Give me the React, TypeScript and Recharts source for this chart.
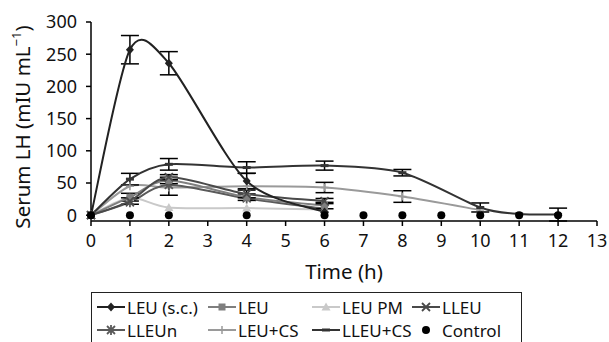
import React from 'react';
import { LineChart, Line, XAxis, YAxis, ErrorBar } from 'recharts';

const TIME = [0, 1, 2, 4, 6, 7, 8, 9, 10, 11, 12];

const LEU_SC = [0, 257, 236, 53, 5, null, null, null, null, null, null];
const LEU_SC_ERR = [0, 22, 18, 12, 0, 0, 0, 0, 0, 0, 0];
const LEU = [0, 28, 54, 28, 15, null, null, null, null, null, null];
const LEU_ERR = [0, 6, 5, 5, 5, 0, 0, 0, 0, 0, 0];
const LEU_PM = [0, 27, 12, 11, 9, null, null, null, null, null, null];
const LLEU = [0, 22, 59, 33, 22, null, null, null, null, null, null];
const LLEU_ERR = [0, 5, 4, 6, 4, 0, 0, 0, 0, 0, 0];
const LLEUN = [0, 20, 47, 26, 10, null, null, null, null, null, null];
const LEU_CS = [0, 45, 43, 45, 43, null, 29, null, 8, null, null];
const LEU_CS_ERR = [0, 0, 12, 0, 8, 0, 9, 0, 0, 0, 0];
const LLEU_CS = [0, 56, 79, 74, 77, null, 66, null, 12, 2, 1];
const LLEU_CS_ERR = [0, 9, 9, 9, 7, 0, 5, 0, 7, 0, 10];
const CONTROL = [0, 0, 0, 0, 0, 0, 0, 0, 0, 0, 0];

const X_TICKS = [0, 1, 2, 3, 4, 5, 6, 7, 8, 9, 10, 11, 12, 13];
const Y_TICKS = [0, 50, 100, 150, 200, 250, 300];

const data = TIME.map((t, i) => ({
  t,
  sc: LEU_SC[i],
  scErr: LEU_SC_ERR[i],
  leu: LEU[i],
  leuErr: LEU_ERR[i],
  pm: LEU_PM[i],
  lleu: LLEU[i],
  lleuErr: LLEU_ERR[i],
  lleun: LLEUN[i],
  cs: LEU_CS[i],
  csErr: LEU_CS_ERR[i],
  lcs: LLEU_CS[i],
  lcsErr: LLEU_CS_ERR[i],
  ctrl: CONTROL[i],
}));

type Shape = 'diamond' | 'square' | 'triangle' | 'x' | 'star' | 'plus' | 'dash' | 'circle';

const FONT = '"Noto Sans", "Open Sans", sans-serif';

// excel-like smoothing: cubic bezier through every point, control points from neighbours
const K = 0.14;
const smoothCurve = (context: any) => {
  let pts: number[][] = [];
  return {
    areaStart() {},
    areaEnd() {},
    lineStart() {
      pts = [];
    },
    point(x: number, y: number) {
      pts.push([+x, +y]);
    },
    lineEnd() {
      if (!pts.length) return;
      context.moveTo(pts[0][0], pts[0][1]);
      for (let i = 0; i < pts.length - 1; i++) {
        const p0 = pts[Math.max(i - 1, 0)];
        const p1 = pts[i];
        const p2 = pts[i + 1];
        const p3 = pts[Math.min(i + 2, pts.length - 1)];
        context.bezierCurveTo(
          p1[0] + (p2[0] - p0[0]) * K,
          p1[1] + (p2[1] - p0[1]) * K,
          p2[0] - (p3[0] - p1[0]) * K,
          p2[1] - (p3[1] - p1[1]) * K,
          p2[0],
          p2[1]
        );
      }
    },
  };
};

const Marker = ({ cx, cy, shape, color }: { cx: number; cy: number; shape: Shape; color: string }) => {
  switch (shape) {
    case 'diamond':
      return <path d={`M${cx},${cy - 4.5}L${cx + 4},${cy}L${cx},${cy + 4.5}L${cx - 4},${cy}Z`} fill={color} />;
    case 'square':
      return <rect x={cx - 3.5} y={cy - 3.5} width={7} height={7} fill={color} />;
    case 'triangle':
      return <path d={`M${cx},${cy - 4.5}L${cx + 4.5},${cy + 3.5}L${cx - 4.5},${cy + 3.5}Z`} fill={color} />;
    case 'x':
      return (
        <path d={`M${cx - 4},${cy - 4}L${cx + 4},${cy + 4}M${cx - 4},${cy + 4}L${cx + 4},${cy - 4}`} stroke={color} strokeWidth={1.8} />
      );
    case 'star':
      return (
        <path
          d={`M${cx - 4},${cy - 4}L${cx + 4},${cy + 4}M${cx - 4},${cy + 4}L${cx + 4},${cy - 4}M${cx},${cy - 5}L${cx},${cy + 5}`}
          stroke={color}
          strokeWidth={1.8}
        />
      );
    case 'plus':
      return <path d={`M${cx - 4},${cy}L${cx + 4},${cy}M${cx},${cy - 4}L${cx},${cy + 4}`} stroke={color} strokeWidth={1.5} />;
    case 'dash':
      return <path d={`M${cx - 4},${cy}L${cx + 4},${cy}`} stroke={color} strokeWidth={3} />;
    default:
      return <circle cx={cx} cy={cy} r={4} fill={color} />;
  }
};

const SERIES: { key: string; err?: string; name: string; color: string; shape: Shape; width: number }[] = [
  { key: 'pm', name: 'LEU PM', color: '#c9c9c9', shape: 'triangle', width: 2 },
  { key: 'cs', err: 'csErr', name: 'LEU+CS', color: '#9a9a9a', shape: 'plus', width: 2 },
  { key: 'lleun', name: 'LLEUn', color: '#5a5a5a', shape: 'star', width: 2 },
  { key: 'leu', err: 'leuErr', name: 'LEU', color: '#7f7f7f', shape: 'square', width: 2 },
  { key: 'lleu', err: 'lleuErr', name: 'LLEU', color: '#4a4a4a', shape: 'x', width: 2 },
  { key: 'lcs', err: 'lcsErr', name: 'LLEU+CS', color: '#333333', shape: 'dash', width: 2 },
  { key: 'sc', err: 'scErr', name: 'LEU (s.c.)', color: '#222222', shape: 'diamond', width: 2 },
];

const LEGEND: { name: string; color: string; shape: Shape; line: boolean }[][] = [
  [
    { name: 'LEU (s.c.)', color: '#222222', shape: 'diamond', line: true },
    { name: 'LEU', color: '#7f7f7f', shape: 'square', line: true },
    { name: 'LEU PM', color: '#c9c9c9', shape: 'triangle', line: true },
    { name: 'LLEU', color: '#4a4a4a', shape: 'x', line: true },
  ],
  [
    { name: 'LLEUn', color: '#5a5a5a', shape: 'star', line: true },
    { name: 'LEU+CS', color: '#9a9a9a', shape: 'plus', line: true },
    { name: 'LLEU+CS', color: '#333333', shape: 'dash', line: true },
    { name: 'Control', color: '#000000', shape: 'circle', line: false },
  ],
];

const LEGEND_COLS = [97, 208, 312, 412];

const YLabel = () => (
  <text x={0} y={0} transform="translate(30,127) rotate(-90)" textAnchor="middle" fontFamily={FONT} fontSize={20.5} fill="#111">
    Serum LH (mIU mL
    <tspan fontSize={13} dy={-9}>−1</tspan>
    <tspan dy={9}>)</tspan>
  </text>
);

const makeDot = (shape: Shape, color: string) => (props: any) => {
  const { cx, cy, index } = props;
  if (cx == null || cy == null || Number.isNaN(cy)) return <g key={index} />;
  return (
    <g key={index}>
      <Marker cx={cx} cy={cy} shape={shape} color={color} />
    </g>
  );
};

export default function App() {
  return (
    <div style={{ position: 'absolute', left: 0, top: 0, width: 609, height: 342, background: '#fff', fontFamily: FONT }}>
      <LineChart width={609} height={342} data={data} margin={{ top: 22, right: 12, left: 0, bottom: 61 }}>
        <XAxis
          dataKey="t"
          type="number"
          domain={[0, 13]}
          ticks={X_TICKS}
          interval={0}
          tickSize={5}
          tickMargin={8}
          height={60}
          stroke="#000"
          strokeWidth={1.5}
          tick={{ fill: '#111', fontSize: 18, fontFamily: FONT }}
          label={{ value: 'Time (h)', position: 'insideBottom', offset: 2, fill: '#111', fontSize: 20.5, fontFamily: FONT }}
        />
        <YAxis
          type="number"
          domain={[0, 300]}
          ticks={Y_TICKS}
          interval={0}
          width={91}
          tickSize={5}
          tickMargin={9}
          stroke="#000"
          strokeWidth={1.5}
          tick={{ fill: '#111', fontSize: 18, fontFamily: FONT }}
          label={<YLabel />}
        />
        {SERIES.map((s) => (
          <Line
            key={s.key}
            dataKey={s.key}
            name={s.name}
            type={smoothCurve as any}
            stroke={s.color}
            strokeWidth={s.width}
            connectNulls
            dot={makeDot(s.shape, s.color)}
            activeDot={false}
            isAnimationActive={false}
          >
            {s.err && <ErrorBar dataKey={s.err} width={9} stroke="#000" strokeWidth={1.5} />}
          </Line>
        ))}
        <Line
          dataKey="ctrl"
          name="Control"
          stroke="none"
          dot={makeDot('circle', '#000')}
          activeDot={false}
          isAnimationActive={false}
        />
      </LineChart>
      <div
        style={{
          position: 'absolute',
          left: 91,
          top: 292,
          width: 431,
          height: 60,
          border: '1.5px solid #222',
          boxSizing: 'border-box',
        }}
      />
      {LEGEND.map((row, r) =>
        row.map((item, c) => (
          <div
            key={item.name}
            style={{
              position: 'absolute',
              left: LEGEND_COLS[c],
              top: 295 + r * 23,
              height: 24,
              display: 'flex',
              alignItems: 'center',
              fontSize: 17,
              color: '#111',
              whiteSpace: 'nowrap',
            }}
          >
            <svg width={28} height={24} style={{ marginRight: 2 }}>
              {item.line && <line x1={0} y1={12} x2={28} y2={12} stroke={item.color} strokeWidth={2} />}
              <Marker cx={14} cy={12} shape={item.shape} color={item.color} />
            </svg>
            {item.name}
          </div>
        ))
      )}
    </div>
  );
}
